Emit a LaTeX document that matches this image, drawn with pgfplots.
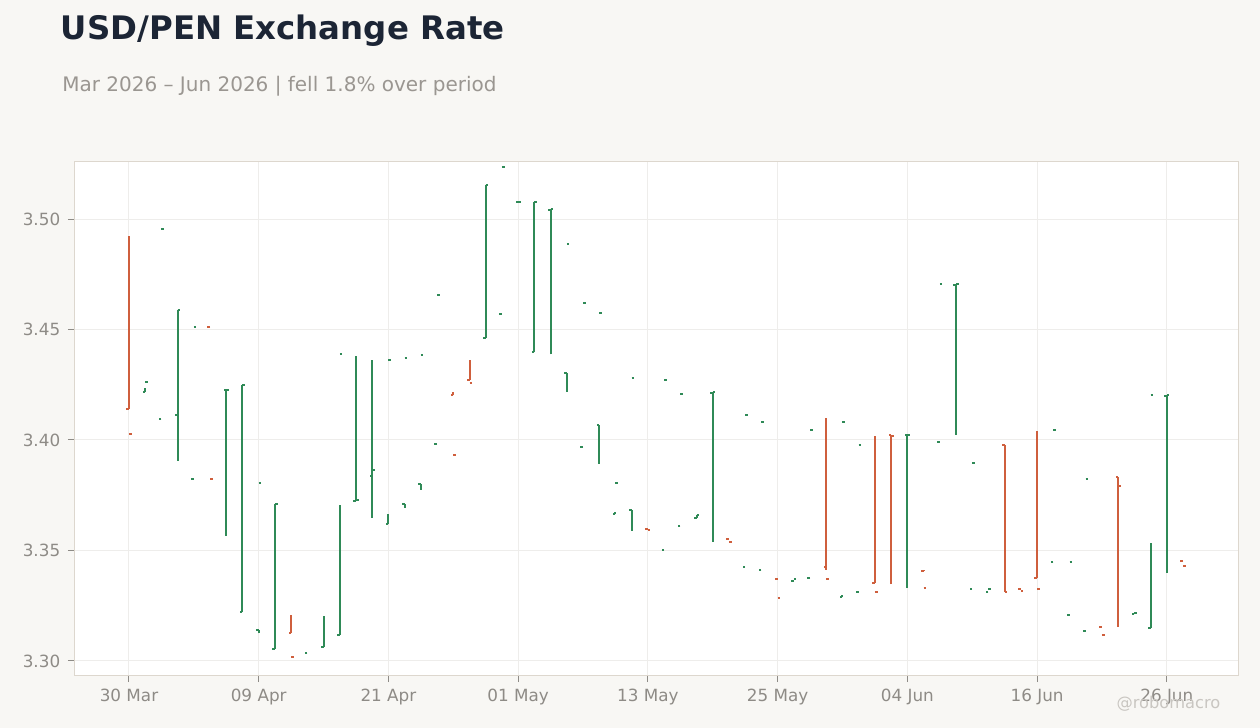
\documentclass[border=0pt]{standalone}
\usepackage{fontspec}
\setmainfont{DejaVu Sans}
\usepackage{pgfplots}
\usepackage{pgfplotstable}
\pgfplotsset{compat=1.18}

\definecolor{bg}{HTML}{F8F7F4}
\definecolor{titlec}{HTML}{1C2535}
\definecolor{subc}{HTML}{9A9691}
\definecolor{tickc}{HTML}{8E8B86}
\definecolor{gridc}{HTML}{EEEDEB}
\definecolor{framec}{HTML}{DDD7CE}
\definecolor{markc}{HTML}{C9C6C1}
\definecolor{upc}{HTML}{2F8A57}
\definecolor{downc}{HTML}{CF5F3D}

% business-day index, open, high, low, close
\pgfplotstableread{
x  o      h      l      c
1  3.4219 3.4235 3.4219 3.4262
2  3.4097 3.4097 3.4097 3.4953
3  3.4114 3.4589 3.3907 3.4589
4  3.3824 3.3824 3.3824 3.4512
6  3.4226 3.4228 3.3567 3.4228
7  3.3221 3.4250 3.3221 3.4250
8  3.3141 3.3141 3.3125 3.3807
9  3.3054 3.3712 3.3054 3.3712
11 3.3037 3.3037 3.3037 nan
12 3.3065 3.3204 3.3065 nan
13 3.3119 3.3704 3.3119 3.4391
14 3.3724 3.4379 3.3724 3.3727
15 3.3839 3.4363 3.3649 3.3866
16 3.3621 3.3665 3.3621 3.4364
17 3.3712 3.3712 3.3694 3.4372
18 3.3803 3.3803 3.3775 3.4385
19 3.3982 3.3982 3.3982 3.4654
22 3.4462 3.5153 3.4462 3.5153
23 3.4568 3.4568 3.4568 3.5234
24 3.5078 3.5078 3.5078 3.5079
25 3.4399 3.5076 3.4399 3.5076
26 3.5043 3.5044 3.4387 3.5044
27 3.4305 3.4305 3.4219 3.4885
28 3.3970 3.3970 3.3970 3.4621
29 3.4068 3.4068 3.3893 3.4573
30 3.3665 3.3676 3.3665 3.3807
31 3.3685 3.3685 3.3590 3.4281
33 3.3504 3.3504 3.3504 3.4272
34 3.3611 3.3611 3.3611 3.4210
35 3.3647 3.3662 3.3647 3.3662
36 3.4214 3.4215 3.3540 3.4215
38 3.3427 3.3427 3.3427 3.4111
39 3.3413 3.3413 3.3413 3.4083
41 3.3363 3.3363 3.3363 3.3372
42 3.3377 3.3377 3.3377 3.4043
44 3.3291 3.3300 3.3291 3.4083
45 3.3313 3.3313 3.3313 3.3979
48 3.4022 3.4023 3.3330 3.4023
50 3.3989 3.3989 3.3989 3.4704
51 3.4703 3.4704 3.4023 3.4704
52 3.3326 3.3326 3.3326 3.3895
53 3.3312 3.3312 3.3312 3.3326
57 3.3449 3.3449 3.3449 3.4045
58 3.3209 3.3209 3.3209 3.3449
59 3.3136 3.3136 3.3136 3.3822
62 3.3214 3.3214 3.3214 3.3218
63 3.3148 3.3533 3.3148 3.4202
64 3.4201 3.4202 3.3399 3.4202
}\up

\pgfplotstableread{
x  o      h      l      c
0  3.4142 3.4924 3.4142 3.4029
5  3.4512 3.4512 3.4512 3.3824
10 3.3128 3.3208 3.3128 3.3019
20 3.4204 3.4216 3.4204 3.3934
21 3.4272 3.4363 3.4272 3.4260
32 3.3599 3.3599 3.3599 3.3593
37 3.3553 3.3553 3.3553 3.3540
40 3.3372 3.3372 3.3372 3.3286
43 3.3427 3.4100 3.3413 3.3372
46 3.3353 3.4019 3.3353 3.3313
47 3.4023 3.4023 3.3348 3.4019
49 3.3408 3.3413 3.3408 3.3331
54 3.3979 3.3979 3.3312 3.3312
55 3.3326 3.3326 3.3326 3.3316
56 3.3374 3.4041 3.3374 3.3326
60 3.3153 3.3153 3.3153 3.3117
61 3.3833 3.3833 3.3155 3.3791
65 3.3453 3.3453 3.3453 3.3428
}\down

\pgfplotsset{
  hl/.style={draw=none, mark=none, forget plot,
    error bars/.cd, y dir=plus, y explicit, error mark=none,
    error bar style={draw=#1, line width=1.5pt, solid}},
  opentick/.style={draw=none, mark=none, forget plot,
    error bars/.cd, x dir=minus, x fixed=0.16, error mark=none,
    error bar style={draw=#1, line width=1.5pt, solid}},
  closetick/.style={draw=none, mark=none, forget plot,
    error bars/.cd, x dir=plus, x fixed=0.16, error mark=none,
    error bar style={draw=#1, line width=1.5pt, solid}},
}

\begin{document}
\begin{tikzpicture}
\useasboundingbox (0,0) rectangle (945pt,546pt);
\fill[bg] (0,0) rectangle (945pt,546pt);

\begin{axis}[
  at={(55.5pt,39pt)}, anchor=south west,
  scale only axis, width=873pt, height=385.5pt,
  xmin=-3.39, xmax=68.39,
  ymin=3.2932, ymax=3.5258,
  axis background/.style={fill=white},
  axis line style={draw=framec, line width=0.75pt},
  xtick={0,8,16,24,32,40,48,56,64},
  xticklabels={30 Mar,09 Apr,21 Apr,01 May,13 May,25 May,04 Jun,16 Jun,26 Jun},
  ytick={3.30,3.35,3.40,3.45,3.50},
  xtick pos=bottom, ytick pos=left,
  tick align=outside, major tick length=4.5pt,
  tick style={draw=tickc, line width=0.75pt},
  grid=major, major grid style={draw=gridc, line width=0.75pt},
  /pgf/number format/assume math mode=true,
  tick label style={font=\fontsize{12.6}{15}\selectfont, text=tickc},
  yticklabel style={/pgf/number format/.cd, fixed, fixed zerofill, precision=2, /tikz/xshift=-2.3pt},
  xticklabel style={yshift=-1.5pt},
]
\addplot[hl=upc] table[x=x, y=l, y error expr=\thisrow{h}-\thisrow{l}] {\up};
\addplot[opentick=upc] table[x=x, y=o] {\up};
\addplot[closetick=upc] table[x=x, y=c] {\up};
\addplot[hl=downc] table[x=x, y=l, y error expr=\thisrow{h}-\thisrow{l}] {\down};
\addplot[opentick=downc] table[x=x, y=o] {\down};
\addplot[closetick=downc] table[x=x, y=c] {\down};
\end{axis}

\node[anchor=base west, inner sep=0, text=titlec, font=\bfseries\fontsize{24.3}{29}\selectfont]
  at (45.5pt,516.4pt) {USD/PEN Exchange Rate};
\node[anchor=base west, inner sep=0, text=subc, font=\fontsize{15}{18}\selectfont]
  at (46.5pt,477.2pt) {Mar 2026 – Jun 2026 | fell 1.8\% over period};
\node[anchor=base east, inner sep=0, text=markc, font=\fontsize{12.2}{14}\selectfont]
  at (915.5pt,14.25pt) {@robomacro};
\end{tikzpicture}
\end{document}
